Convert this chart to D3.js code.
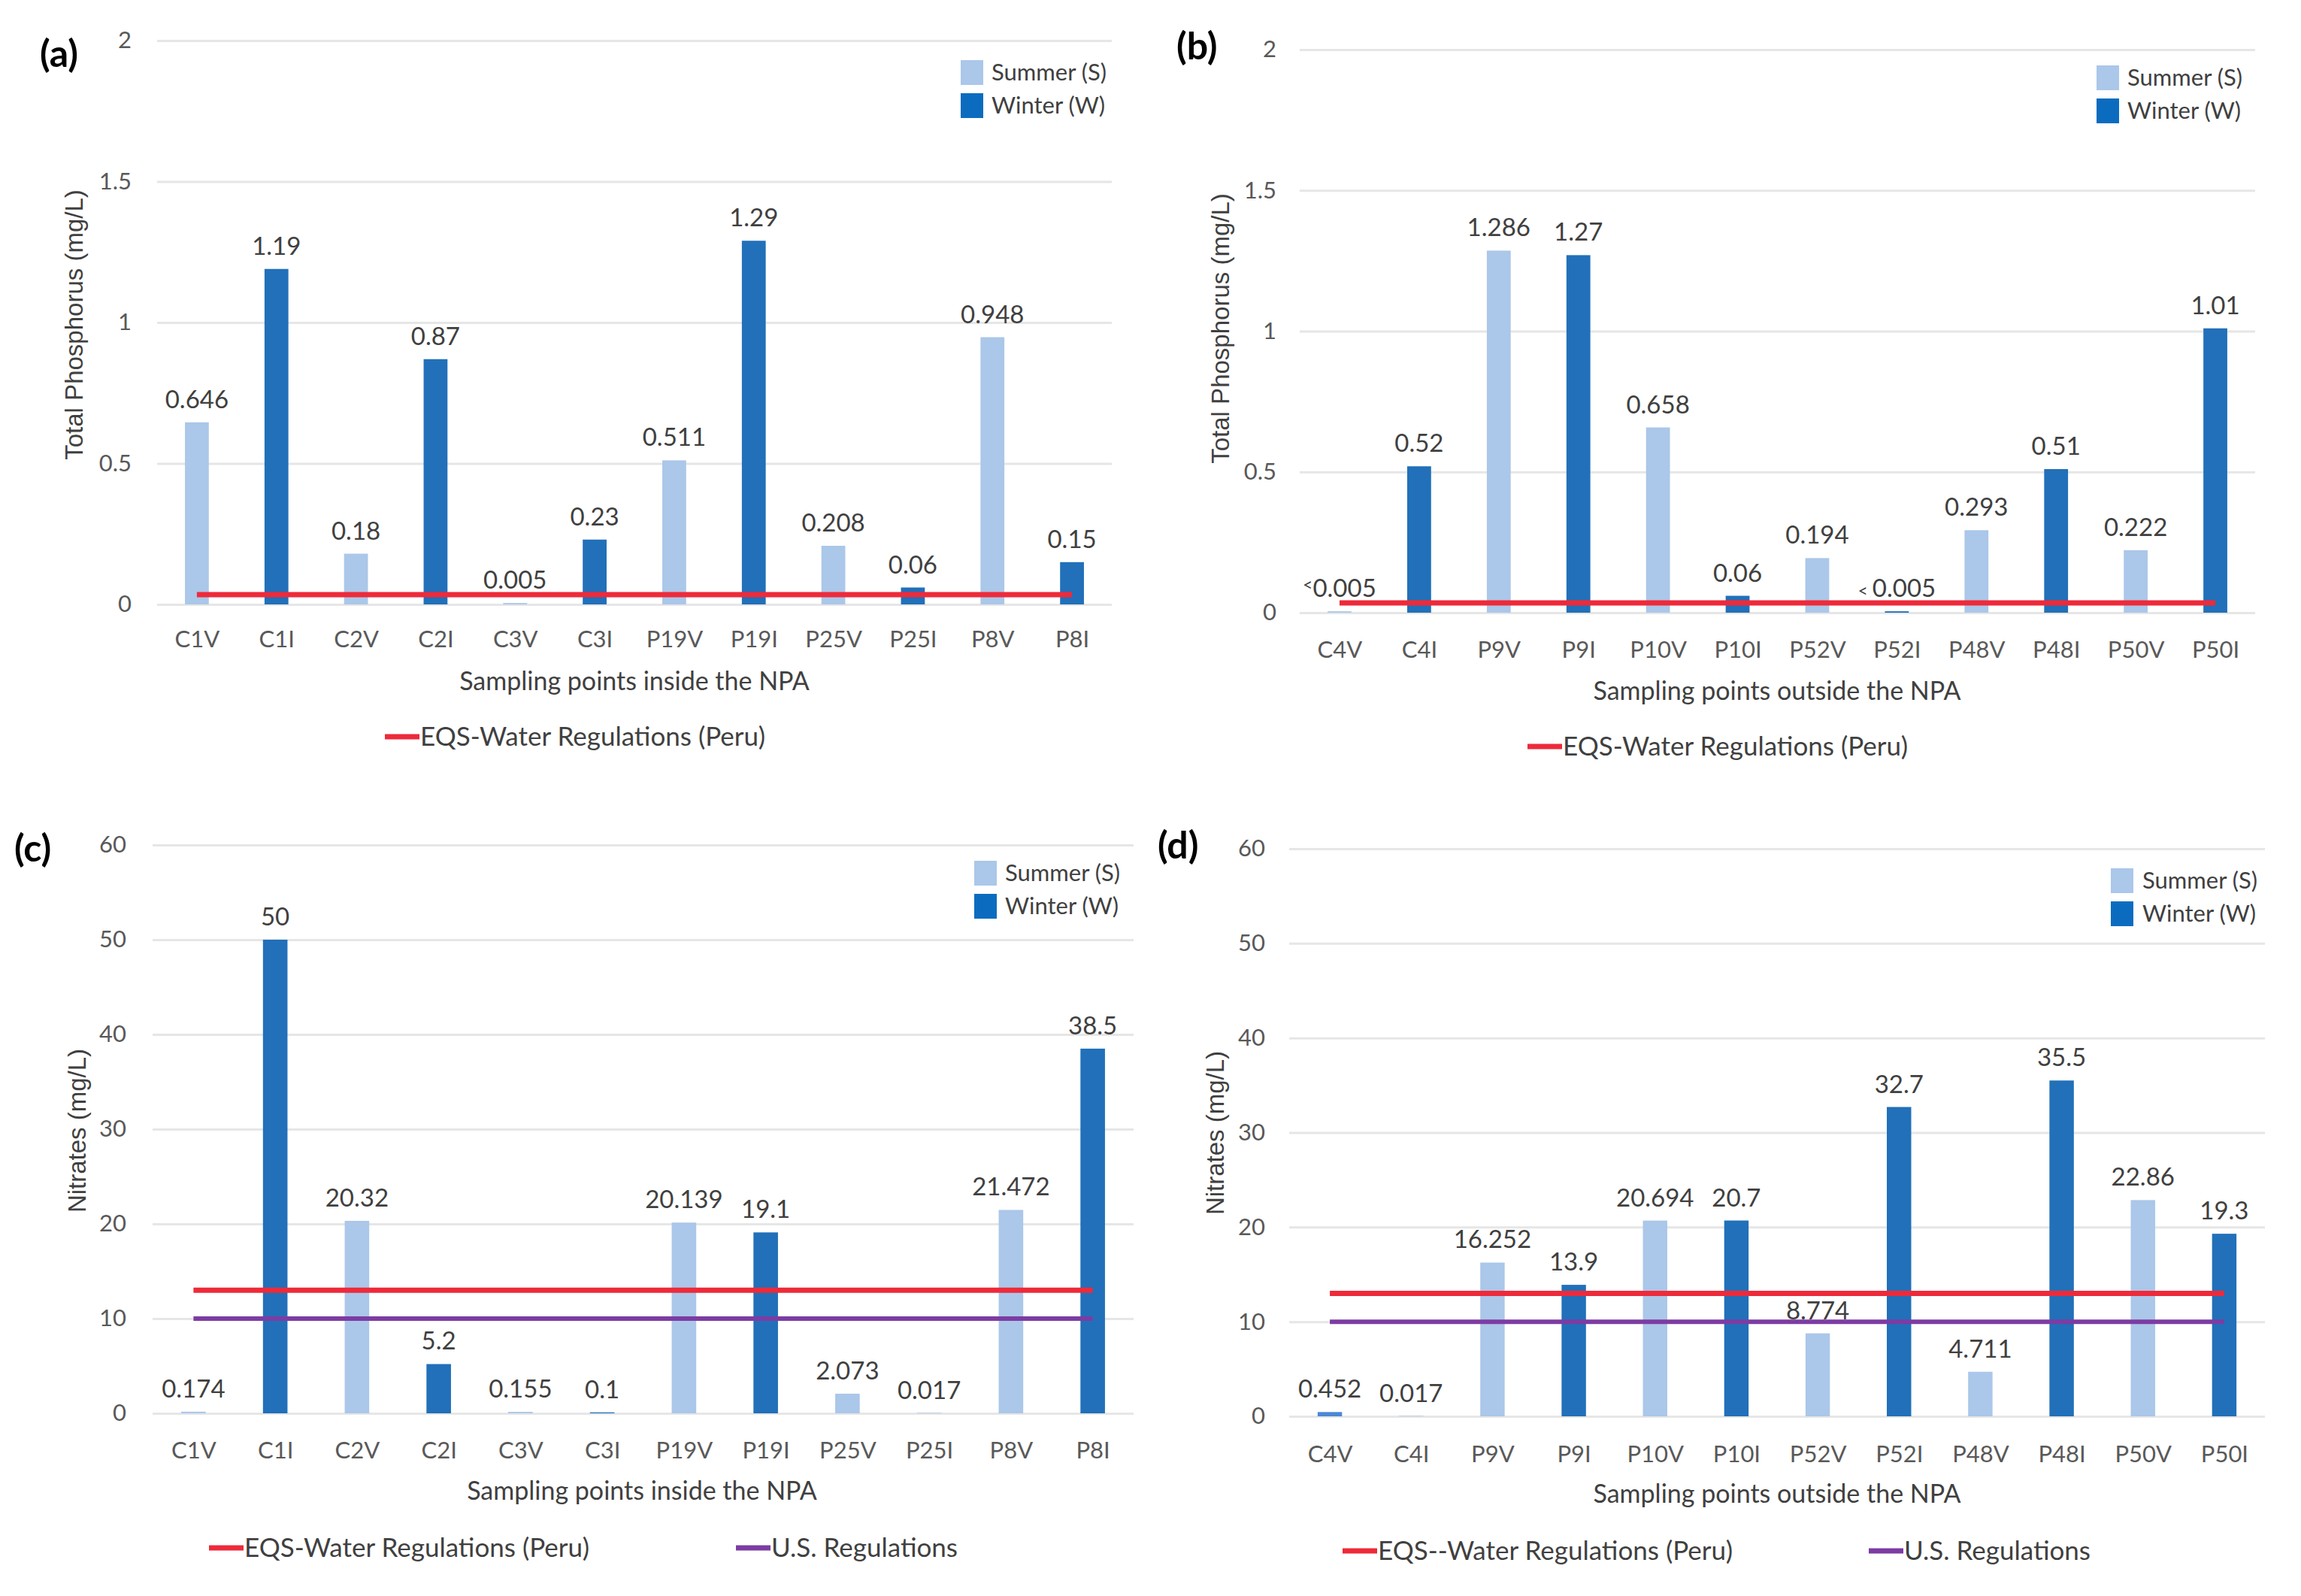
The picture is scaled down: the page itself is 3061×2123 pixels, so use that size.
<!DOCTYPE html>
<html>
<head>
<meta charset="utf-8">
<script src="https://cdn.jsdelivr.net/npm/d3@7"></script>
<style>
  body { margin: 0; background: #fff; }
</style>
</head>
<body>
<div id="vis"></div>
<script>
// sampling points
const sitesInside = ['C1V', 'C1I', 'C2V', 'C2I', 'C3V', 'C3I', 'P19V', 'P19I', 'P25V', 'P25I', 'P8V', 'P8I'];
const sitesOutside = ['C4V', 'C4I', 'P9V', 'P9I', 'P10V', 'P10I', 'P52V', 'P52I', 'P48V', 'P48I', 'P50V', 'P50I'];

// total phosphorus (mg/L)
const phosInside = [0.646, 1.19, 0.18, 0.87, 0.005, 0.23, 0.511, 1.29, 0.208, 0.06, 0.948, 0.15];
const phosOutside = [0.005, 0.52, 1.286, 1.27, 0.658, 0.06, 0.194, 0.005, 0.293, 0.51, 0.222, 1.01];
const phosOutsideLabels = ['<0.005', null, null, null, null, null, null, '< 0.005', null, null, null, null];

// nitrates (mg/L)
const nitInside = [0.174, 50, 20.32, 5.2, 0.155, 0.1, 20.139, 19.1, 2.073, 0.017, 21.472, 38.5];
const nitOutside = [0.452, 0.017, 16.252, 13.9, 20.694, 20.7, 8.774, 32.7, 4.711, 35.5, 22.86, 19.3];

// tick labels
const phosTicks = [0, 0.5, 1, 1.5, 2];
const nitTicks = [0, 10, 20, 30, 40, 50, 60];

// regulation limits
const eqsPhos = 0.035;
const eqsNit = 13;
const usNit = 10;

const seasonNames = ['Summer (S)', 'Winter (W)'];

const lightBlue = '#abc7e9', darkBlue = '#2170b9', legendDark = '#0b6cbf';
const red = '#ee2a3a', purple = '#7d3ca3';
const font = 'Lato, "Open Sans", sans-serif';

// V = verano (summer), I = invierno (winter)
function barColor(site) {
  return site.endsWith('V') ? lightBlue : darkBlue;
}

const panels = [
  { tag: '(a)', sites: sitesInside, values: phosInside, labels: null, ticks: phosTicks, ymax: 2,
    yTitle: 'Total Phosphorus (mg/L)', xTitle: 'Sampling points inside the NPA',
    refs: [{ v: eqsPhos, c: red, name: 'EQS-Water Regulations (Peru)', lx: 512 }],
    x0: 209, x1: 1479, yb: 804, yt: 54, tickX: 175, catY: 850, titleX: 844, titleY: 906,
    legY: 980, ytX: 98, ytY: 432, tagX: 53, tagY: 71, swX: 1278, swY: 80, swTextX: 1319 },
  { tag: '(b)', sites: sitesOutside, values: phosOutside, labels: phosOutsideLabels, ticks: phosTicks, ymax: 2,
    yTitle: 'Total Phosphorus (mg/L)', xTitle: 'Sampling points outside the NPA',
    refs: [{ v: eqsPhos, c: red, name: 'EQS-Water Regulations (Peru)', lx: 2032 }],
    x0: 1729, x1: 3000, yb: 815, yt: 66, tickX: 1698, catY: 864, titleX: 2364, titleY: 919,
    legY: 993, ytX: 1623, ytY: 437, tagX: 1565, tagY: 61, swX: 2789, swY: 87, swTextX: 2830 },
  { tag: '(c)', sites: sitesInside, values: nitInside, labels: null, ticks: nitTicks, ymax: 60,
    yTitle: 'Nitrates (mg/L)', xTitle: 'Sampling points inside the NPA',
    refs: [{ v: eqsNit, c: red, name: 'EQS-Water Regulations (Peru)', lx: 278 },
           { v: usNit, c: purple, name: 'U.S. Regulations', lx: 979 }],
    x0: 203, x1: 1508, yb: 1880, yt: 1124, tickX: 168, catY: 1929, titleX: 854, titleY: 1983,
    legY: 2059, ytX: 102, ytY: 1504, tagX: 19, tagY: 1128, swX: 1296, swY: 1145, swTextX: 1337 },
  { tag: '(d)', sites: sitesOutside, values: nitOutside, labels: null, ticks: nitTicks, ymax: 60,
    yTitle: 'Nitrates (mg/L)', xTitle: 'Sampling points outside the NPA',
    refs: [{ v: eqsNit, c: red, name: 'EQS--Water Regulations (Peru)', lx: 1786 },
           { v: usNit, c: purple, name: 'U.S. Regulations', lx: 2486 }],
    x0: 1715, x1: 3013, yb: 1884, yt: 1129, tickX: 1683, catY: 1934, titleX: 2364, titleY: 1987,
    legY: 2063, ytX: 1616, ytY: 1507, tagX: 1540, tagY: 1124, swX: 2808, swY: 1155, swTextX: 2850,
    firstColor: '#4a88d6' }
];

const svg = d3.select('#vis')
  .append('svg')
  .attr('width', 3061)
  .attr('height', 2123)
  .style('background-color', '#fff');

panels.forEach(p => drawPanel(p));

function drawPanel(p) {
  const g = svg.append('g');

  const x = d3.scalePoint().domain(p.sites).range([p.x0, p.x1]).padding(0.5);
  const y = d3.scaleLinear().domain([0, p.ymax]).range([p.yb, p.yt]);
  const bw = x.step() * 0.3;

  // gridlines + y tick labels
  const yAxis = g.append('g')
    .attr('transform', 'translate(' + p.x0 + ',0)')
    .call(d3.axisLeft(y).tickValues(p.ticks).tickFormat(d3.format('~g'))
      .tickSize(-(p.x1 - p.x0)).tickPadding(p.x0 - p.tickX));
  yAxis.select('.domain').remove();
  yAxis.selectAll('line').attr('stroke', '#e6e6e6').attr('stroke-width', 3);
  yAxis.selectAll('text')
    .style('font-family', font).style('font-size', '31px').attr('fill', '#595959');

  // bars
  g.append('g')
    .selectAll('rect')
    .data(p.sites)
    .enter()
    .append('rect')
    .attr('x', d => x(d) - bw / 2)
    .attr('y', (d, i) => y(p.values[i]))
    .attr('width', bw)
    .attr('height', (d, i) => y(0) - y(p.values[i]))
    .attr('fill', (d, i) => (i == 0 && p.firstColor) ? p.firstColor : barColor(d));

  // data labels
  const lab = g.append('g')
    .selectAll('text')
    .data(p.sites)
    .enter()
    .append('text')
    .attr('x', d => x(d))
    .attr('y', (d, i) => y(p.values[i]) - 19)
    .attr('text-anchor', 'middle')
    .style('font-family', font)
    .style('font-size', '33px')
    .attr('fill', '#404040');
  lab.each(function (d, i) {
    const t = d3.select(this);
    const s = (p.labels && p.labels[i]) ? p.labels[i] : String(p.values[i]);
    if (s.startsWith('<')) {
      t.append('tspan').text(s.slice(0, s.length - 5)).style('font-size', '23px')
        .attr('dy', i == 0 ? -8 : 0);
      t.append('tspan').text(s.slice(-5)).attr('dy', i == 0 ? 8 : 0);
    } else {
      t.text(s);
    }
  });

  // regulation lines
  p.refs.forEach(r => {
    g.append('line')
      .attr('x1', x(p.sites[0]))
      .attr('x2', x(p.sites[p.sites.length - 1]))
      .attr('y1', y(r.v))
      .attr('y2', y(r.v))
      .attr('stroke', r.c)
      .attr('stroke-width', r.c == red ? 7 : 6);
  });

  // category labels
  const xAxis = g.append('g')
    .attr('transform', 'translate(0,' + p.catY + ')')
    .call(d3.axisBottom(x).tickSize(0).tickPadding(0));
  xAxis.select('.domain').remove();
  xAxis.selectAll('text')
    .attr('dy', '0.35em')
    .style('font-family', font).style('font-size', '31px').attr('fill', '#595959');

  // x title
  g.append('text')
    .attr('x', p.titleX)
    .attr('y', p.titleY)
    .attr('dy', '0.35em')
    .attr('text-anchor', 'middle')
    .style('font-family', font)
    .style('font-size', '34px')
    .attr('fill', '#404040')
    .text(p.xTitle);

  // y title
  g.append('text')
    .attr('text-anchor', 'middle')
    .attr('transform', 'translate(' + p.ytX + ',' + p.ytY + ')rotate(-90)')
    .attr('dy', '0.35em')
    .style('font-family', '"Liberation Sans", Arial, sans-serif')
    .style('font-size', '33px')
    .attr('fill', '#404040')
    .text(p.yTitle);

  // panel tag
  g.append('text')
    .attr('x', p.tagX)
    .attr('y', p.tagY)
    .attr('dy', '0.35em')
    .style('font-family', font)
    .style('font-size', '50px')
    .style('font-weight', 'bold')
    .attr('fill', '#000')
    .text(p.tag);

  // season legend
  seasonNames.forEach((n, i) => {
    g.append('rect')
      .attr('x', p.swX)
      .attr('y', p.swY + i * 44)
      .attr('width', 30)
      .attr('height', 33)
      .attr('fill', i == 0 ? lightBlue : legendDark);
    g.append('text')
      .attr('x', p.swTextX)
      .attr('y', p.swY + i * 44 + 16)
      .attr('dy', '0.35em')
      .style('font-family', font)
      .style('font-size', '31px')
      .attr('fill', '#404040')
      .text(n);
  });

  // regulation legend
  p.refs.forEach(r => {
    g.append('line')
      .attr('x1', r.lx).attr('x2', r.lx + 46)
      .attr('y1', p.legY).attr('y2', p.legY)
      .attr('stroke', r.c).attr('stroke-width', 7);
    g.append('text')
      .attr('x', r.lx + 47)
      .attr('y', p.legY)
      .attr('dy', '0.35em')
      .style('font-family', font)
      .style('font-size', '35px')
      .attr('fill', '#404040')
      .text(r.name);
  });
}
</script>
</body>
</html>
